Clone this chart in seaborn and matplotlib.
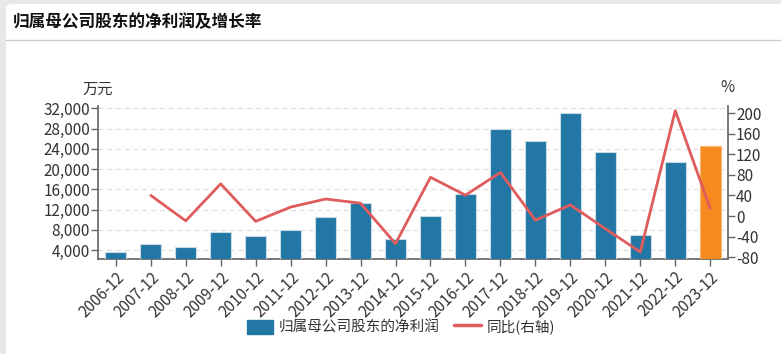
import numpy as np
import pandas as pd
import matplotlib
matplotlib.use("Agg")
import matplotlib.pyplot as plt
import seaborn as sns
from matplotlib.patches import FancyBboxPatch, Patch
from matplotlib.lines import Line2D

periods = ["2006-12", "2007-12", "2008-12", "2009-12", "2010-12", "2011-12",
           "2012-12", "2013-12", "2014-12", "2015-12", "2016-12", "2017-12",
           "2018-12", "2019-12", "2020-12", "2021-12", "2022-12", "2023-12"]
net_profit = [3660, 5130, 4650, 7560, 6770, 7950, 10580, 13230, 6110,
              10720, 15070, 27850, 25600, 31130, 23430, 7030, 21450, 24550]
growth = [np.nan, 40.2, -9.4, 62.6, -10.4, 17.4, 33.1, 25.0, -53.8,
          75.4, 40.6, 84.8, -8.1, 21.6, -24.7, -70.0, 205.1, 14.5]
left_ticks = [4000, 8000, 12000, 16000, 20000, 24000, 28000, 32000]
right_ticks = [-80, -40, 0, 40, 80, 120, 160, 200]

title = "归属母公司股东的净利润及增长率"
bar_label = "归属母公司股东的净利润"
line_label = "同比(右轴)"

BLUE = "#2277a5"
ORANGE = "#f68a1e"
RED = "#e05c5c"
TXT = "#333333"

sns.set_theme(style="white")
plt.rcParams["font.family"] = ["Noto Sans CJK SC", "DejaVu Sans"]
plt.rcParams["axes.unicode_minus"] = False

fig = plt.figure(figsize=(7.81, 3.54), dpi=100)
fig.patch.set_facecolor("#e8e8e8")
W, H = 781, 354
card = FancyBboxPatch((6 / W, -0.05), 1.0, (H - 4) / H + 0.05,
                      boxstyle="round,pad=0,rounding_size=0.01",
                      transform=fig.transFigure, facecolor="white",
                      edgecolor="none", zorder=-10)
fig.patches.append(card)
fig.add_artist(Line2D([6 / W, 1], [1 - 39.5 / H, 1 - 39.5 / H],
                      transform=fig.transFigure, color="#cccccc", lw=1, zorder=-5))
fig.text(13 / W, 1 - 22 / H, title, fontsize=12, fontweight="bold",
         color="#111111", va="center", ha="left")

ax = fig.add_axes([98.3 / W, 95 / H, (727.7 - 98.3) / W, (259 - 106) / H])
ax.set_facecolor("none")

df = pd.DataFrame({"period": periods, "profit": net_profit})
colors = [BLUE] * (len(periods) - 1) + [ORANGE]
sns.barplot(data=df, x="period", y="profit", hue="period", palette=colors,
            legend=False, width=0.6, ax=ax, edgecolor="#c9dbe6",
            linewidth=0.8, saturation=1, zorder=3)
ax.patches[-1].set_edgecolor("#f9b66e")

ax.set_xlim(-0.5, len(periods) - 0.5)
ax.set_ylim(2222, 32454)
ax.set_yticks(left_ticks)
ax.set_yticklabels([f"{v:,}" for v in left_ticks], fontsize=11, color=TXT)
ax.set_xticks(range(len(periods)))
ax.set_xticklabels(periods, rotation=45, ha="right", rotation_mode="anchor",
                   fontsize=11, color=TXT)
ax.set_xlabel("")
ax.set_ylabel("")
ax.grid(axis="y", color="#e0e0e0", linestyle=(0, (4, 3)), linewidth=0.9, zorder=0)
ax.set_axisbelow(True)
for s in ["top", "right"]:
    ax.spines[s].set_visible(False)
ax.spines["left"].set_color("#666666")
ax.spines["bottom"].set_color("#666666")
ax.tick_params(axis="y", which="both", left=True, length=5, width=1,
               color="#666666", pad=1)
ax.tick_params(axis="x", which="both", bottom=True, length=5, width=1,
               color="#666666", pad=2)

ax2 = ax.twinx()
gdf = pd.DataFrame({"pos": np.arange(len(periods)), "growth": growth})
sns.lineplot(data=gdf.dropna(), x="pos", y="growth", ax=ax2, color=RED,
             linewidth=2, zorder=4)
ax2.set_ylim(-83.7, 214.2)
ax2.set_yticks(right_ticks)
ax2.set_yticklabels([str(v) for v in right_ticks], fontsize=11, color=TXT)
ax2.set_xlabel("")
ax2.set_ylabel("")
for s in ["top", "left", "bottom"]:
    ax2.spines[s].set_visible(False)
ax2.spines["right"].set_color("#666666")
ax2.tick_params(axis="y", right=True, length=5, width=1, color="#666666", pad=1)
ax2.grid(False)

fig.text(97.5 / W, 1 - 89 / H, "万元", fontsize=11, color=TXT, ha="center", va="center")
fig.text(727.5 / W, 1 - 88 / H, "%", fontsize=11, color=TXT, ha="center", va="center")

handles = [Patch(facecolor=BLUE, edgecolor=BLUE, label=bar_label),
           Line2D([0], [0], color=RED, lw=2.5, label=line_label)]
fig.legend(handles=handles, loc="center", bbox_to_anchor=(401 / W, 1 - 327 / H),
           ncol=2, frameon=False, fontsize=10.5, handlelength=1.8,
           handleheight=1.1, columnspacing=1.0, handletextpad=0.4,
           labelcolor=TXT)

fig.savefig("out.png", dpi=100, facecolor=fig.get_facecolor())
